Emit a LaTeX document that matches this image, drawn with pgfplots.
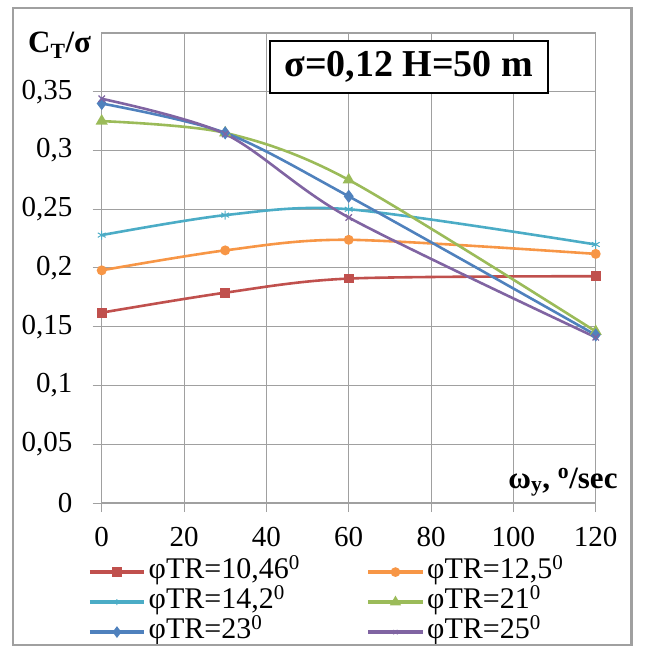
\documentclass[border=0pt]{standalone}
\usepackage{fontspec}
\setmainfont{Liberation Serif}
\usepackage{pgfplots}
\pgfplotsset{compat=1.18}
\definecolor{cRed}{HTML}{C0504D}
\definecolor{cOrange}{HTML}{F79646}
\definecolor{cCyan}{HTML}{4BACC6}
\definecolor{cGreen}{HTML}{9BBB59}
\definecolor{cBlue}{HTML}{4F81BD}
\definecolor{cPurple}{HTML}{8064A2}
\definecolor{gridgray}{HTML}{A0A0A0}
\begin{document}
\begin{tikzpicture}
\begin{axis}[
  name=a,
  scale only axis,
  width=494pt, height=470pt,
  xmin=0, xmax=120, ymin=0, ymax=0.4,
  xtick={0,20,...,120},
  ytick={0,0.05,0.1,0.15,0.2,0.25,0.3,0.35},
  extra y ticks={0.4}, extra y tick labels={},
  extra y tick style={major tick length=0pt},
  grid=major,
  major grid style={gridgray, line width=1pt},
  axis line style={gridgray, line width=1.2pt},
  tick style={gridgray, line width=1pt},
  major tick length=9pt,
  tick align=outside,
  xtick pos=bottom, ytick pos=left,
  /pgf/number format/.cd, use comma, fixed, precision=2, assume math mode=true,
  /pgfplots/.cd,
  ticklabel style={font=\fontsize{29}{31}\selectfont, inner sep=0pt},
  yticklabel style={anchor=east, xshift=-20pt},
  xticklabel style={anchor=north, yshift=-15pt},
  clip=false,
  legend columns=2,
  legend style={draw=none, fill=none, at={(-0.0277,-0.12)}, anchor=north west,
    font=\fontsize{30}{32}\selectfont, inner sep=0pt, row sep=5pt,
    nodes={inner xsep=3pt, inner ysep=0pt, text height=19pt, text depth=6pt, text width=215pt, align=left}},
  legend image code/.code={\draw[mark repeat=2,mark phase=2,#1,line width=3.5pt,mark size=3pt] plot coordinates {(0pt,0pt) (27pt,0pt) (54pt,0pt)};},
  every axis plot/.append style={line width=2.6pt, smooth, tension=0.5},
]
\addplot[cRed, mark=square*, mark size=3.6pt, mark options={solid}] coordinates {(0,0.162) (30,0.179) (60,0.191) (120,0.193)};
\addlegendentry{φTR=10,46\textsuperscript{0}}
\addplot[cOrange, mark=*, mark size=3.6pt] coordinates {(0,0.198) (30,0.215) (60,0.224) (120,0.212)};
\addlegendentry{φTR=12,5\textsuperscript{0}}
\addplot[cCyan, mark=asterisk, mark size=4.5pt, mark options={line width=1pt}] coordinates {(0,0.228) (30,0.245) (60,0.250) (120,0.220)};
\addlegendentry{φTR=14,2\textsuperscript{0}}
\addplot[cGreen, mark=triangle*, mark size=4.5pt] coordinates {(0,0.325) (30,0.315) (60,0.275) (120,0.146)};
\addlegendentry{φTR=21\textsuperscript{0}}
\addplot[cBlue, mark=diamond*, mark size=4.5pt] coordinates {(0,0.340) (30,0.315) (60,0.261) (120,0.143)};
\addlegendentry{φTR=23\textsuperscript{0}}
\addplot[cPurple, mark=x, mark size=4.5pt, mark options={line width=1.2pt}] coordinates {(0,0.344) (30,0.314) (60,0.243) (120,0.141)};
\addlegendentry{φTR=25\textsuperscript{0}}
\node[draw=black, line width=2pt, fill=white, minimum width=278pt, minimum height=52pt, inner sep=0pt,
  font=\fontsize{38}{40}\selectfont\bfseries] at (axis cs:74.6,0.371) {σ=0,12 H=50 m};
\node[anchor=north west, inner sep=0pt, font=\fontsize{31}{33}\selectfont\bfseries]
  at ([xshift=-73.7pt,yshift=1pt]rel axis cs:0,1) {C\textsubscript{T}/σ};
\node[anchor=base east, inner sep=0pt, font=\fontsize{31}{33}\selectfont\bfseries]
  at ([xshift=22pt,yshift=15pt]rel axis cs:1,0) {ω\textsubscript{y}, \textsuperscript{o}/sec};
\end{axis}
\path ([xshift=-101.7pt,yshift=-145pt]a.south west) rectangle ([xshift=41pt,yshift=33pt]a.north east);
\draw[gridgray, line width=2.5pt] ([xshift=-88.7pt,yshift=-142pt]a.south west) rectangle ([xshift=36pt,yshift=25pt]a.north east);
\end{tikzpicture}
\end{document}
